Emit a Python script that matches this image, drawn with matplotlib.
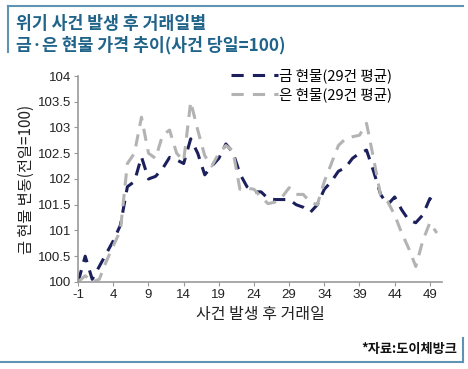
import matplotlib
matplotlib.use("Agg")
import matplotlib.pyplot as plt
from matplotlib.lines import Line2D

# trading days after the event (-1 .. 50)
days = list(range(-1, 51))

# averaged spot prices, event day = 100
gold = [100.0, 100.5, 100.05, 100.3, 100.55, 100.8, 101.1, 101.85, 101.95, 102.43,
        102.0, 102.05, 102.2, 102.42, 102.37, 102.3, 102.78, 102.5, 102.08, 102.25,
        102.4, 102.68, 102.52, 102.1, 101.85, 101.75, 101.75, 101.62, 101.6, 101.6,
        101.6, 101.5, 101.45, 101.35, 101.5, 101.8, 101.95, 102.15, 102.22, 102.4,
        102.5, 102.56, 102.15, 101.7, 101.5, 101.65, 101.4, 101.2, 101.15, 101.3,
        101.62, 101.5]
silver = [100.0, 100.12, 100.0, 100.05, 100.4, 100.7, 101.0, 102.3, 102.5, 103.2,
          102.5, 102.4, 102.85, 102.95, 102.5, 102.35, 103.5, 102.95, 102.45, 102.25,
          102.5, 102.65, 102.55, 101.8, 101.82, 101.8, 101.65, 101.52, 101.55, 101.65,
          101.83, 101.7, 101.7, 101.55, 101.5, 101.95, 102.3, 102.65, 102.78, 102.82,
          102.85, 103.08, 102.4, 101.68, 101.56, 101.3, 100.95, 100.65, 100.3, 100.8,
          101.15, 100.95]

x_ticks = [-1, 4, 9, 14, 19, 24, 29, 34, 39, 44, 49]
y_ticks = [100, 100.5, 101, 101.5, 102, 102.5, 103, 103.5, 104]

title = "위기 사건 발생 후 거래일별\n금·은 현물 가격 추이(사건 당일=100)"
labels = ["금 현물(29건 평균)", "은 현물(29건 평균)"]
source = "*자료:도이체방크"

kr = ["Noto Sans CJK KR", "DejaVu Sans"]
plt.rcParams['font.family'] = ["Liberation Sans", "Noto Sans CJK KR", "DejaVu Sans"]
plt.rcParams['axes.unicode_minus'] = False

gold_c = "#1b1f5c"
silver_c = "#b3b3b3"
frame_c = "#5f93b3"

fig = plt.figure(figsize=(4.68, 3.69), dpi=100)
ax = fig.add_axes([0.167, 0.236, 0.777, 0.558])

ax.plot(days, gold, color=gold_c, lw=2.2, dashes=(4, 2.8))
ax.plot(days, silver, color=silver_c, lw=2.2, dashes=(4, 2.8))

ax.set_xlim(-1, 50.7)
ax.set_ylim(100, 104)
ax.set_xticks(x_ticks)
ax.set_yticks(y_ticks)
ax.set_yticklabels([f"{v:g}" for v in y_ticks])
ax.tick_params(axis='both', labelsize=9.5, length=3, color="#999999", pad=2,
               labelcolor="#222222")
for s in ["top", "right"]:
    ax.spines[s].set_visible(False)
for s in ["left", "bottom"]:
    ax.spines[s].set_color("#999999")
    ax.spines[s].set_linewidth(1.2)

ax.set_xlabel("사건 발생 후 거래일", fontsize=11.5, family=kr, labelpad=4,
              color="#222222")
ax.set_ylabel("금 현물 변동(전일=100)", fontsize=11, family=kr, labelpad=2,
              color="#222222")

handles = [Line2D([], [], color=gold_c, lw=2.2, dashes=(4, 3)),
           Line2D([], [], color=silver_c, lw=2.2, dashes=(4, 3))]
ax.legend(handles, labels, loc="upper right", bbox_to_anchor=(0.9, 1.1), frameon=False,
          prop={"family": kr, "size": 10.5}, handlelength=3.2, handletextpad=0.1,
          labelspacing=0.25)

# title and frame
fig.text(0.034, 0.96, title, fontsize=12.4, color="#21648a", family=kr,
         weight="bold", va="top", ha="left", linespacing=1.25)
fig.add_artist(Line2D([0.017, 0.99], [0.985, 0.985], color=frame_c, lw=1.5))
fig.add_artist(Line2D([0.017, 0.017], [0.985, 0.86], color=frame_c, lw=1.5))
fig.add_artist(Line2D([0.0, 0.99], [0.02, 0.02], color=frame_c, lw=1.5))
fig.add_artist(Line2D([0.99, 0.99], [0.02, 0.085], color=frame_c, lw=1.5))

fig.text(0.978, 0.055, source, fontsize=9.5, family=kr, weight="bold",
         ha="right", va="center", color="#111111")

fig.savefig("out.png", dpi=100)
